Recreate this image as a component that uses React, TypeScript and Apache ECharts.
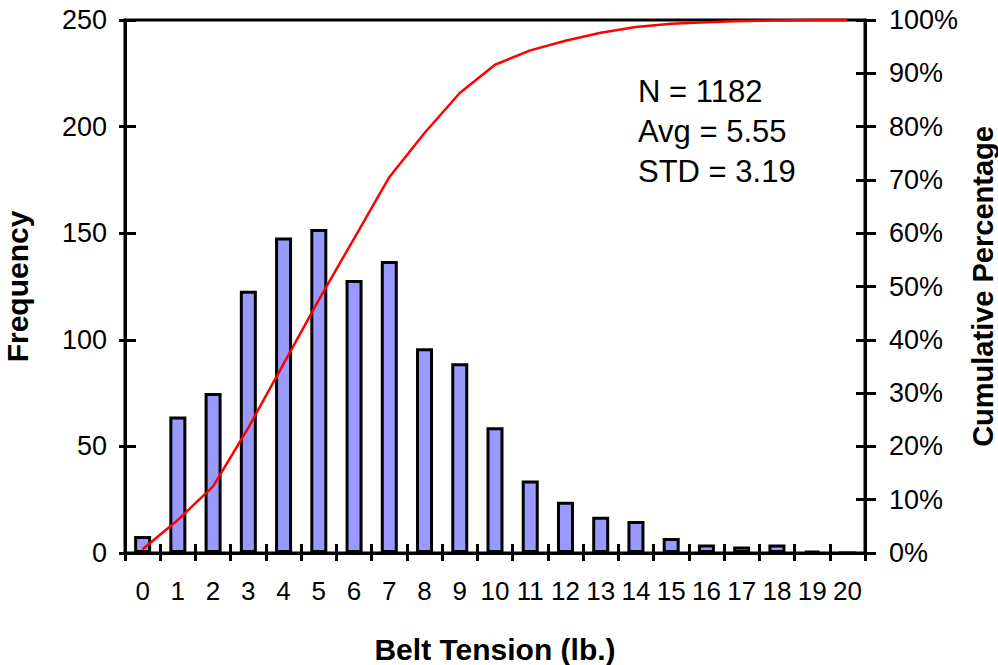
import React, { useEffect, useRef } from "react";
import * as echarts from "echarts";

const categories = ["0","1","2","3","4","5","6","7","8","9","10","11","12","13","14","15","16","17","18","19","20"];
const frequency = [8, 64, 75, 123, 148, 152, 128, 137, 96, 89, 59, 34, 24, 17, 15, 7, 4, 3, 4, 1, 0];
const cumulativePct = [0.7, 6.2, 12.5, 23.5, 35.5, 47.5, 59, 70.5, 78.8, 86.3, 91.6, 94.3, 96.1, 97.6, 98.7, 99.3, 99.6, 99.8, 99.9, 100, 100];
const statsLines = ["N = 1182", "Avg = 5.55", "STD = 3.19"];
const xTitle = "Belt Tension (lb.)";
const yLeftTitle = "Frequency";
const yRightTitle = "Cumulative Percentage";

const FONT = "'Liberation Sans', Arial, sans-serif";

export default function App() {
  const ref = useRef<HTMLDivElement>(null);
  useEffect(() => {
    if (!ref.current) return;
    const chart = echarts.init(ref.current, null, { renderer: "svg" });
    const lineStyle = { color: "#000", width: 3 };
    const option: any = {
      animation: false,
      backgroundColor: "#fff",
      textStyle: { fontFamily: FONT, color: "#000" },
      grid: {
        left: 125, right: 133, top: 20, bottom: 112,
        outerBoundsMode: "none", containLabel: false,
        show: true, borderColor: "#000", borderWidth: 3, backgroundColor: "transparent",
      },
      xAxis: [
        {
          type: "category", data: categories, position: "bottom", boundaryGap: true,
          axisLine: { show: true, lineStyle },
          axisTick: { show: true, inside: false, length: 8, lineStyle, alignWithLabel: false },
          axisLabel: { show: true, margin: 25, fontSize: 26, color: "#000", fontFamily: FONT, interval: 0 },
          name: xTitle, nameLocation: "middle", nameGap: 81,
          nameTextStyle: { fontSize: 30, fontWeight: "bold", color: "#000", fontFamily: FONT },
          splitLine: { show: false },
        },
        {
          type: "category", data: categories, position: "bottom", boundaryGap: true,
          axisLine: { show: false },
          axisTick: { show: true, inside: true, length: 9, lineStyle },
          axisLabel: { show: false },
          splitLine: { show: false },
        },
      ],
      yAxis: [
        {
          type: "value", position: "left", min: 0, max: 250, interval: 50,
          axisLine: { show: true, lineStyle },
          axisTick: { show: true, inside: false, length: 6, lineStyle },
          axisLabel: { margin: 18, fontSize: 27, color: "#000", fontFamily: FONT },
          splitLine: { show: false },
          name: yLeftTitle, nameLocation: "middle", nameGap: 93, nameRotate: 90,
          nameTextStyle: { fontSize: 30, fontWeight: "bold", color: "#000", fontFamily: FONT },
        },
        {
          type: "value", position: "right", min: 0, max: 100, interval: 10,
          axisLine: { show: true, lineStyle },
          axisTick: { show: true, inside: false, length: 11, lineStyle },
          axisLabel: { margin: 24, fontSize: 27, color: "#000", fontFamily: FONT, formatter: "{value}%" },
          splitLine: { show: false },
          name: yRightTitle, nameLocation: "middle", nameGap: 98, nameRotate: 90,
          nameTextStyle: { fontSize: 29, fontWeight: "bold", color: "#000", fontFamily: FONT },
        },
        {
          type: "value", position: "left", min: 0, max: 250, interval: 50,
          axisLine: { show: false },
          axisTick: { show: true, inside: true, length: 11, lineStyle },
          axisLabel: { show: false },
          splitLine: { show: false },
        },
        {
          type: "value", position: "right", min: 0, max: 100, interval: 10,
          axisLine: { show: false },
          axisTick: { show: true, inside: true, length: 9, lineStyle },
          axisLabel: { show: false },
          splitLine: { show: false },
        },
      ],
      series: [
        {
          type: "bar", xAxisIndex: 0, yAxisIndex: 0, data: frequency,
          barWidth: 17,
          itemStyle: { color: "#9999FF", borderColor: "#000", borderWidth: 3 },
        },
        {
          type: "line", xAxisIndex: 0, yAxisIndex: 1, data: cumulativePct,
          showSymbol: false, symbol: "none", clip: false, z: 5,
          lineStyle: { color: "#FF0000", width: 2.5 },
        },
      ],
      graphic: [
        {
          type: "text", left: 638, top: 71, z: 10,
          style: { text: statsLines.join("\n"), font: `31px ${FONT}`, fill: "#000", lineHeight: 40 },
        },
      ],
    };
    chart.setOption(option);
    return () => chart.dispose();
  }, []);
  return (
    <div
      ref={ref}
      style={{ position: "fixed", left: 0, top: 0, width: 998, height: 665, background: "#fff" }}
    />
  );
}
